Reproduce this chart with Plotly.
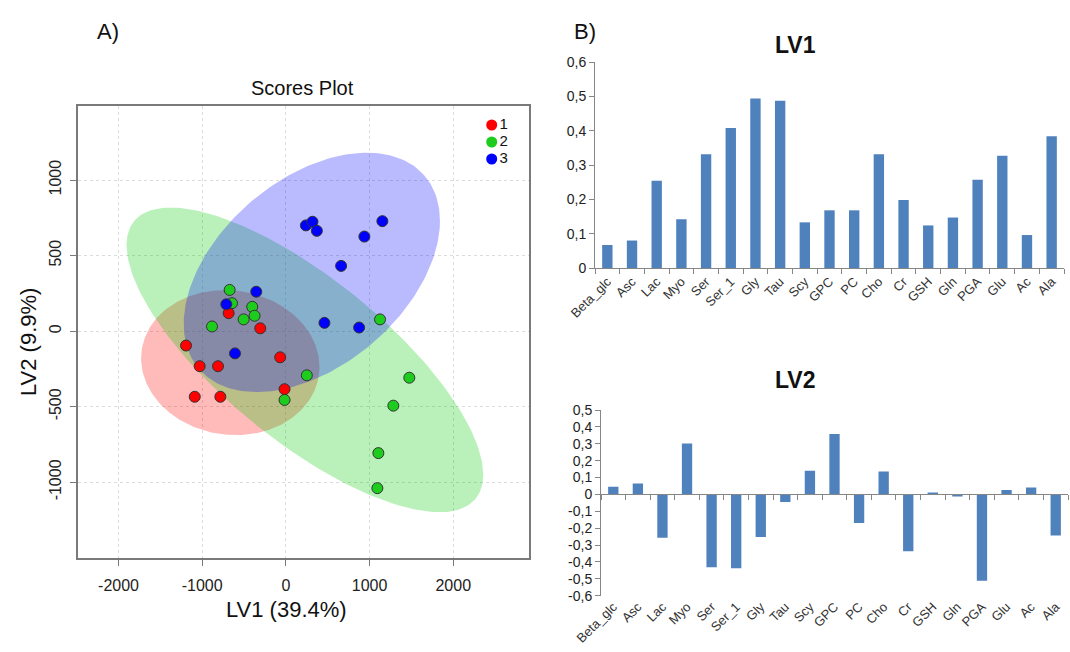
import numpy as np
import plotly.graph_objects as go

W, H = 1070, 652
FONT = "Arial, Liberation Sans, sans-serif"

# ---------------- Scores plot data ----------------
grp1_x = [-684, -306, -1193, -1030, -811, -1089, -783, -68, -16]
grp1_y = [119, 19, -95, -232, -232, -434, -434, -173, -384]
grp2_x = [-672, -644, -402, -374, -505, -883, 250, -16, 1125, 1475, 1284, 1105, 1093]
grp2_y = [273, 185, 161, 102, 78, 31, -292, -455, 78, -308, -493, -807, -1039]
grp3_x = [239, 318, 370, 1153, 938, 660, -354, -712, 461, 875, -608]
grp3_y = [700, 724, 664, 728, 626, 432, 261, 178, 55, 24, -147]

group_names = ["1", "2", "3"]
group_colors = ["#FF0000", "#1ECC1E", "#0000FF"]
ellipse_fills = ["rgba(255,0,0,0.27)", "rgba(0,205,0,0.27)", "rgba(0,0,255,0.27)"]

# confidence ellipses: centre, half-extent in x / y, correlation
ell_cx = [-664, 227, 310]
ell_cy = [-208, -190, 389]
ell_hx = [1066, 2131, 1531]
ell_hy = [480, 1008, 792]
ell_rho = [-0.06, -0.753, 0.43]

score_xticks = [-2000, -1000, 0, 1000, 2000]
score_xlabels = ["-2000", "-1000", "0", "1000", "2000"]
score_yticks = [-1000, -500, 0, 500, 1000]
score_ylabels = ["-1000", "-500", "0", "500", "1000"]

# ---------------- Loadings data ----------------
metabolites = ["Beta_glc", "Asc", "Lac", "Myo", "Ser", "Ser_1", "Gly", "Tau", "Scy", "GPC",
               "PC", "Cho", "Cr", "GSH", "Gln", "PGA", "Glu", "Ac", "Ala"]
lv1_values = [0.067, 0.080, 0.254, 0.142, 0.331, 0.408, 0.494, 0.487, 0.133, 0.168,
              0.168, 0.331, 0.198, 0.124, 0.147, 0.257, 0.327, 0.096, 0.384]
lv2_values = [0.045, 0.065, -0.257, 0.302, -0.431, -0.437, -0.253, -0.045, 0.140, 0.358,
              -0.170, 0.136, -0.336, 0.012, -0.012, -0.512, 0.026, 0.041, -0.243]

lv1_ticks = [0, 0.1, 0.2, 0.3, 0.4, 0.5, 0.6]
lv1_labels = ["0", "0,1", "0,2", "0,3", "0,4", "0,5", "0,6"]
lv2_ticks = [-0.6, -0.5, -0.4, -0.3, -0.2, -0.1, 0, 0.1, 0.2, 0.3, 0.4, 0.5]
lv2_labels = ["-0,6", "-0,5", "-0,4", "-0,3", "-0,2", "-0,1", "0", "0,1", "0,2", "0,3", "0,4", "0,5"]

BAR_COLOR = "#4F81BD"


def fx(px):
    return px / W


def fy(py):
    return 1 - py / H


fig = go.Figure()

# ellipses
t = np.linspace(0, 2 * np.pi, 240)
for i in range(3):
    cov = np.array([[ell_hx[i] ** 2, ell_rho[i] * ell_hx[i] * ell_hy[i]],
                    [ell_rho[i] * ell_hx[i] * ell_hy[i], ell_hy[i] ** 2]])
    L = np.linalg.cholesky(cov)
    pts = L @ np.vstack([np.cos(t), np.sin(t)])
    fig.add_trace(go.Scatter(x=pts[0] + ell_cx[i], y=pts[1] + ell_cy[i], mode="lines",
                             fill="toself", fillcolor=ellipse_fills[i], line=dict(width=0),
                             hoverinfo="skip", showlegend=False, xaxis="x", yaxis="y"))

# points
for gx, gy, col in [(grp1_x, grp1_y, group_colors[0]), (grp2_x, grp2_y, group_colors[1]),
                    (grp3_x, grp3_y, group_colors[2])]:
    fig.add_trace(go.Scatter(x=gx, y=gy, mode="markers",
                             marker=dict(size=11, color=col, line=dict(color="#333333", width=1)),
                             showlegend=False, xaxis="x", yaxis="y"))

# compact key for the groups (drawn on its own small category axis)
fig.add_trace(go.Scatter(x=[0] * len(group_names), y=group_names, mode="markers+text",
                         text=group_names, textposition="middle right",
                         textfont=dict(size=15, color="#111", family=FONT),
                         marker=dict(size=11, color=group_colors), showlegend=False,
                         hoverinfo="skip", xaxis="x5", yaxis="y5", cliponaxis=False))

# LV1 bars
fig.add_trace(go.Bar(x=metabolites, y=lv1_values, marker=dict(color=BAR_COLOR, line=dict(width=0)),
                     showlegend=False, xaxis="x2", yaxis="y2"))
# LV2 bars
fig.add_trace(go.Bar(x=metabolites, y=lv2_values, marker=dict(color=BAR_COLOR, line=dict(width=0)),
                     showlegend=False, xaxis="x3", yaxis="y3"))
# helper trace for the zero axis of LV2
fig.add_trace(go.Scatter(x=metabolites, y=[0] * len(metabolites), mode="none",
                         showlegend=False, hoverinfo="skip", xaxis="x4", yaxis="y3"))

axis_gray = "#868686"
lv2_dom = [fy(595.7), fy(410)]
zero_pos = lv2_dom[0] + (0 - (-0.6)) / 1.1 * (lv2_dom[1] - lv2_dom[0])

hidden = dict(visible=False, showgrid=False, zeroline=False, automargin=False)

fig.update_layout(
    template="none",
    width=W, height=H, margin=dict(l=0, r=0, t=0, b=0, autoexpand=False),
    paper_bgcolor="white", plot_bgcolor="rgba(0,0,0,0)",
    font=dict(family=FONT, color="#222222"),
    bargap=0.58,
    showlegend=False,
    xaxis=dict(domain=[fx(78), fx(529)], range=[-2484, 2905], tickvals=score_xticks,
               ticktext=score_xlabels, showline=True, mirror=True, linecolor="#7a7a7a", linewidth=2,
               ticks="outside", ticklen=6, tickcolor="#7a7a7a", ticklabelstandoff=6,
               showgrid=True, gridcolor="#dcdcdc", griddash="dot", zeroline=False, automargin=False,
               tickfont=dict(size=16, color="#222")),
    yaxis=dict(domain=[fy(558), fy(106)], range=[-1501, 1490], tickvals=score_yticks,
               ticktext=score_ylabels, showline=True, mirror=True, linecolor="#7a7a7a", linewidth=2,
               ticks="outside", ticklen=6, tickcolor="#7a7a7a", tickangle=-90, ticklabelstandoff=3,
               showgrid=True, gridcolor="#dcdcdc", griddash="dot", zeroline=False, automargin=False,
               tickfont=dict(size=16, color="#222")),
    xaxis5=dict(domain=[fx(486), fx(526)], anchor="y5", range=[-0.5, 3], **hidden),
    yaxis5=dict(domain=[fy(167.5), fy(116.5)], anchor="x5", type="category", categoryorder="array",
                categoryarray=group_names, range=[2.5, -0.5], **hidden),
    xaxis2=dict(domain=[fx(595), fx(1064)], anchor="y2", type="category", categoryorder="array",
                categoryarray=metabolites, showline=True, linecolor=axis_gray, ticks="outside",
                tickson="boundaries", ticklen=5, tickcolor=axis_gray, tickangle=-45, automargin=False,
                tickfont=dict(size=13, color="#333"), showgrid=False),
    yaxis2=dict(domain=[fy(268), fy(62)], anchor="x2", range=[0, 0.6], tickvals=lv1_ticks,
                ticktext=lv1_labels, showline=True, linecolor=axis_gray, ticks="outside", ticklen=5,
                tickcolor=axis_gray, showgrid=False, zeroline=False, automargin=False,
                tickfont=dict(size=14, color="#222")),
    xaxis3=dict(domain=[fx(601), fx(1068)], anchor="y3", type="category", categoryorder="array",
                categoryarray=metabolites, showline=False, ticks="", tickangle=-45, automargin=False,
                tickfont=dict(size=13, color="#333"), showgrid=False),
    xaxis4=dict(domain=[fx(601), fx(1068)], anchor="free", position=zero_pos, overlaying="x3",
                matches="x3", type="category", categoryorder="array", categoryarray=metabolites,
                showline=True, linecolor=axis_gray, ticks="outside", tickson="boundaries", ticklen=5,
                tickcolor=axis_gray, showticklabels=False, showgrid=False, automargin=False),
    yaxis3=dict(domain=lv2_dom, anchor="x3", range=[-0.6, 0.5], tickvals=lv2_ticks,
                ticktext=lv2_labels, showline=True, linecolor=axis_gray, ticks="outside", ticklen=5,
                tickcolor=axis_gray, showgrid=False, zeroline=False, automargin=False,
                tickfont=dict(size=14, color="#222")),
)

annotations = [
    dict(text="A)", x=fx(108), y=fy(31), size=22, bold=False),
    dict(text="B)", x=fx(585), y=fy(31), size=22, bold=False),
    dict(text="Scores Plot", x=fx(302), y=fy(88), size=20, bold=False),
    dict(text="LV1 (39.4%)", x=fx(286), y=fy(609), size=22, bold=False),
    dict(text="LV1", x=fx(795), y=fy(45), size=23, bold=True),
    dict(text="LV2", x=fx(795), y=fy(380), size=23, bold=True),
]
for a in annotations:
    txt = f"<b>{a['text']}</b>" if a["bold"] else a["text"]
    fig.add_annotation(text=txt, x=a["x"], y=a["y"], xref="paper", yref="paper", showarrow=False,
                       xanchor="center", yanchor="middle",
                       font=dict(size=a["size"], family=FONT, color="#111"))
fig.add_annotation(text="LV2 (9.9%)", x=fx(28), y=fy(342), xref="paper", yref="paper",
                   showarrow=False, textangle=-90, xanchor="center", yanchor="middle",
                   font=dict(size=22, family=FONT, color="#111"))

fig.write_html("out.html", config={"displayModeBar": False},
               post_script="document.body.style.margin='0';document.body.style.overflow='hidden';")
